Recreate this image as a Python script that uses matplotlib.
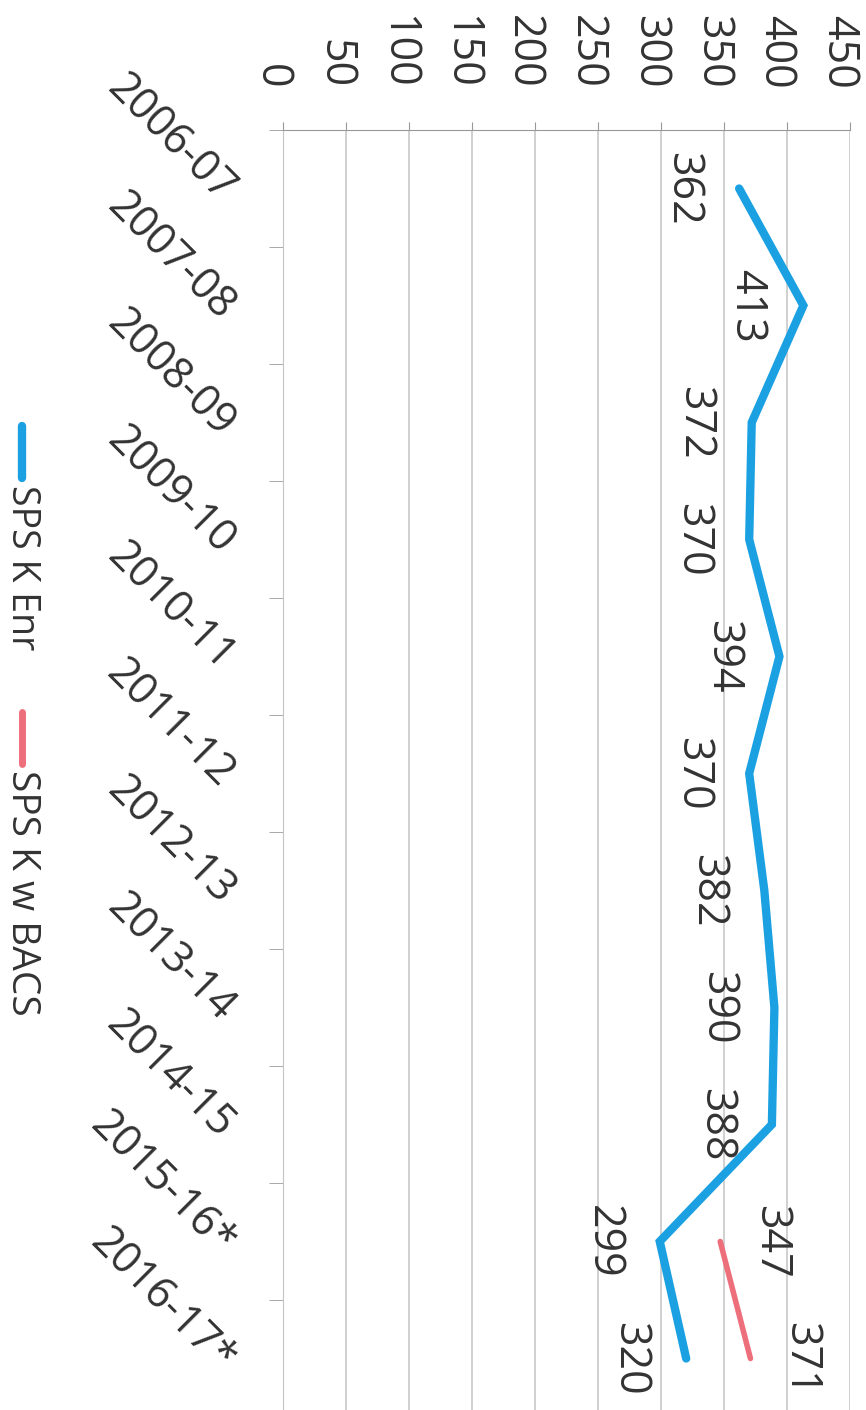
import numpy as np
import matplotlib
matplotlib.use("Agg")
import matplotlib.pyplot as plt
import matplotlib.transforms as mtransforms
from matplotlib.lines import Line2D

# school years (one per category slot, top to bottom)
years = ["2006-07", "2007-08", "2008-09", "2009-10", "2010-11", "2011-12",
         "2012-13", "2013-14", "2014-15", "2015-16*", "2016-17*"]
enr = [362, 413, 372, 370, 394, 370, 382, 390, 388, 299, 320]
bacs = [np.nan] * 9 + [347, 371]
value_ticks = list(range(0, 451, 50))

BLUE = "#1ba1e2"
RED = "#ee6f7c"
GRID = "#c4c4c4"
TEXT = "#333333"

plt.rcParams["font.family"] = ["Open Sans", "DejaVu Sans"]

W, H = 866, 1410
fig = plt.figure(figsize=(W / 100, H / 100), dpi=100)
# chart is laid out sideways: values run left->right, years run downward
left, right, top, bottom = 283, 850, 130, 1417
ax = fig.add_axes([left / W, (H - bottom) / H, (right - left) / W, (bottom - top) / H])

y = np.arange(len(years))
ax.set_xlim(0, 450)
ax.set_ylim(len(years) - 0.5, -0.5)

ax.plot(enr, y, color=BLUE, lw=6, solid_joinstyle="miter", solid_capstyle="round", zorder=3)
ax.plot(bacs, y, color=RED, lw=4, solid_capstyle="round", zorder=3)

for v, yy in zip(enr, y):
    ax.annotate(str(v), (v, yy), xytext=(-57, 0), textcoords="offset pixels",
                rotation=-90, ha="center", va="center", fontsize=31, color=TEXT)
for v, yy in zip(bacs, y):
    if np.isnan(v):
        continue
    ax.annotate(str(int(v)), (v, yy), xytext=(50, 0), textcoords="offset pixels",
                rotation=-90, ha="center", va="center", fontsize=31, color=TEXT)

# value axis along the top
ax.xaxis.tick_top()
ax.set_xticks(value_ticks)
ax.set_xticklabels([str(t) for t in value_ticks], rotation=-90, fontsize=31, color=TEXT)
ax.tick_params(axis="x", length=6, color="#999999", pad=24)
shift = mtransforms.ScaledTranslation(-12 / 100, 0, fig.dpi_scale_trans)
for lab in ax.get_xticklabels():
    lab.set_verticalalignment("bottom")
    lab.set_transform(lab.get_transform() + shift)
ax.grid(axis="x", color=GRID, lw=1.1)

# year axis along the left
ax.set_yticks(y)
ax.set_yticklabels(years, fontsize=31, color=TEXT, rotation=-45,
                   rotation_mode="anchor", ha="right", va="center")
ax.set_yticks(np.arange(len(years) + 1) - 0.5, minor=True)
ax.tick_params(axis="y", which="major", length=0, pad=40)
ax.tick_params(axis="y", which="minor", length=10, color="#999999")
down = mtransforms.ScaledTranslation(0, -8 / 100, fig.dpi_scale_trans)
for lab in ax.get_yticklabels():
    lab.set_transform(lab.get_transform() + down)

for s in ("right", "bottom"):
    ax.spines[s].set_visible(False)
ax.spines["top"].set_color("#999999")
ax.spines["left"].set_color(GRID)
ax.set_facecolor("white")

# legend, drawn sideways in the left margin
def fx(px):
    return px / W

def fy(py):
    return 1 - py / H

fig.add_artist(Line2D([fx(22), fx(22)], [fy(426), fy(478)], color=BLUE, lw=6,
                      solid_capstyle="round"))
fig.text(fx(22), fy(485), "SPS K Enr", rotation=-90, ha="center", va="top",
         fontsize=27, color=TEXT)
fig.add_artist(Line2D([fx(22), fx(22)], [fy(712), fy(764)], color=RED, lw=5,
                      solid_capstyle="round"))
fig.text(fx(22), fy(770), "SPS K w BACS", rotation=-90, ha="center", va="top",
         fontsize=28, color=TEXT)

fig.savefig("out.png", dpi=100, facecolor="white")
